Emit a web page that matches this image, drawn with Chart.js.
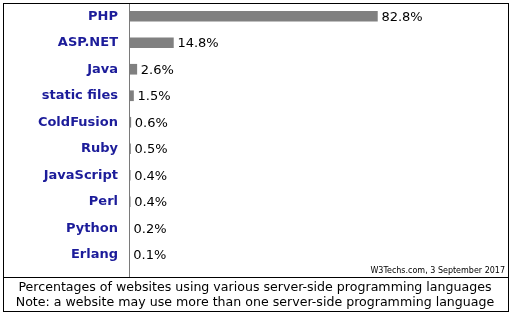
<!DOCTYPE html>
<html>
<head>
<meta charset="utf-8">
<script src="https://cdn.jsdelivr.net/npm/chart.js@4.4.0/dist/chart.umd.min.js"></script>
<style>
    body { margin: 0; background: #fff; }
    #wrap { width: 513px; height: 317px; }
</style>
</head>
<body>
<div id="wrap"><canvas id="grafico" width="513" height="317"></canvas></div>
<script>
// Datos
const lenguajes = ['PHP', 'ASP.NET', 'Java', 'static files', 'ColdFusion', 'Ruby', 'JavaScript', 'Perl', 'Python', 'Erlang'];
const porcentajes = [82.8, 14.8, 2.6, 1.5, 0.6, 0.5, 0.4, 0.4, 0.2, 0.1];
const leyenda = [
    'Percentages of websites using various server-side programming languages',
    'Note: a website may use more than one server-side programming language'
];
const fuente = 'W3Techs.com, 3 September 2017';

// Marco, línea del eje, etiquetas de valores y pie de gráfico
const marcoPlugin = {
    id: 'marco',
    afterDatasetsDraw(chart) {
        const ctx = chart.ctx;
        const meta = chart.getDatasetMeta(0);
        ctx.save();
        ctx.font = '13px "DejaVu Sans"';
        ctx.fillStyle = '#000';
        ctx.textAlign = 'left';
        ctx.textBaseline = 'middle';
        meta.data.forEach(function (barra, i) {
            ctx.fillText(porcentajes[i].toFixed(1) + '%', barra.x + 4, barra.y + 1);
        });
        ctx.restore();
    },
    afterDraw(chart) {
        const ctx = chart.ctx;
        const izq = chart.chartArea.left;
        ctx.save();
        // línea del eje
        ctx.strokeStyle = '#7a7a7a';
        ctx.lineWidth = 1;
        ctx.beginPath();
        ctx.moveTo(izq + 0.5, 3);
        ctx.lineTo(izq + 0.5, 277);
        ctx.stroke();
        // marco exterior y separador
        ctx.strokeStyle = '#000';
        ctx.strokeRect(3.5, 3.5, 505, 308);
        ctx.beginPath();
        ctx.moveTo(3, 277.5);
        ctx.lineTo(509, 277.5);
        ctx.stroke();
        // fuente
        ctx.fillStyle = '#000';
        ctx.font = '8px "DejaVu Sans"';
        ctx.textAlign = 'right';
        ctx.textBaseline = 'middle';
        ctx.fillText(fuente, 505, 271);
        // leyenda
        ctx.font = '12.6px "DejaVu Sans"';
        ctx.textAlign = 'center';
        ctx.fillText(leyenda[0], 255, 288);
        ctx.fillText(leyenda[1], 255, 303);
        ctx.restore();
    }
};

const ctxGrafico = document.getElementById('grafico').getContext('2d');
new Chart(ctxGrafico, {
    type: 'bar',
    data: {
        labels: lenguajes,
        datasets: [{
            data: porcentajes,
            backgroundColor: '#808080',
            barThickness: 10,
            borderWidth: 0
        }]
    },
    options: {
        indexAxis: 'y',
        responsive: false,
        animation: false,
        devicePixelRatio: 1,
        layout: { padding: { left: 3, top: 3, right: 84, bottom: 49 } },
        plugins: {
            legend: { display: false },
            tooltip: { enabled: false }
        },
        scales: {
            x: { display: false, min: 0, max: 100 },
            y: {
                afterFit: function (escala) {
                    escala.width = 126;
                    escala.paddingTop = 0;
                    escala.paddingBottom = 0;
                },
                grid: { display: false, drawTicks: false },
                border: { display: false },
                ticks: {
                    padding: 11,
                    color: '#1c1c9a',
                    font: { family: 'DejaVu Sans', size: 13, weight: 'bold' }
                }
            }
        }
    },
    plugins: [marcoPlugin]
});
</script>
</body>
</html>
